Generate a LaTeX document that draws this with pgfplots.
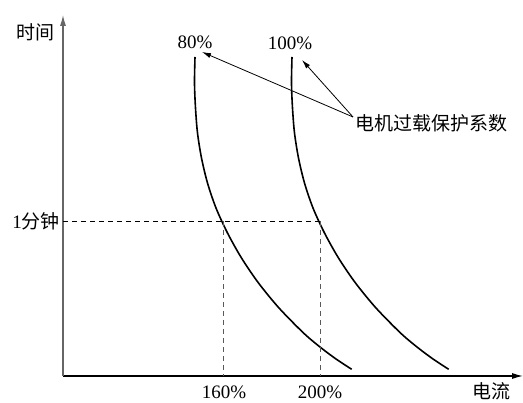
\documentclass[border=0pt]{standalone}
\usepackage{fontspec}
\setmainfont{Liberation Serif}
\newfontfamily\cjk{Noto Sans CJK SC}
\usepackage{pgfplots}
\pgfplotsset{compat=1.18}
\usetikzlibrary{arrows.meta}
\tikzset{lbl/.style={font=\fontsize{19}{22}\selectfont, inner sep=1pt}}
\begin{document}
\begin{tikzpicture}
\begin{axis}[
  at={(63pt,27pt)}, anchor=south west,
  width=460pt, height=361pt, scale only axis,
  xmin=63, xmax=523, ymin=27, ymax=388,
  axis lines=left, clip=false,
  xtick=\empty, ytick=\empty,
  x axis line style={black, line width=1.2pt, -{Latex[length=11pt,width=6pt]}},
  y axis line style={black!60, line width=1.2pt, -{Latex[length=11pt,width=6pt]}},
  every axis plot/.append style={line width=1.6pt, black},
]
% 80% curve (data in picture units)
\addplot[smooth] coordinates {
(195,346) (194.5,320) (195.5,295) (197.5,270) (201.5,245) (207.5,220)
(216,195) (227.5,170) (241.5,145) (258.5,120) (279,95) (303.5,70)
(320,56) (336,44) (351.7,33.7)};
% 100% curve
\addplot[smooth] coordinates {
(292,346) (291.5,320) (292.5,295) (294.5,270) (298.5,245) (304.5,220)
(313,195) (324.5,170) (338.5,145) (355.5,120) (376,95) (400.5,70)
(417,56) (433,44) (448.7,33.7)};
% guide lines
\addplot[line width=0.9pt, black, dash pattern=on 5pt off 4pt] coordinates {(63,182) (320.3,182)};
\addplot[line width=0.9pt, black!65, dash pattern=on 5pt off 4pt] coordinates {(223.5,182) (223.5,27)};
\addplot[line width=0.9pt, black!65, dash pattern=on 5pt off 4pt] coordinates {(320.3,182) (320.3,27)};
% annotation arrows
\draw[line width=0.8pt, -{Latex[length=9pt,width=5pt]}] (axis cs:353,286) -- (axis cs:202,351);
\draw[line width=0.8pt, -{Latex[length=9pt,width=5pt]}] (axis cs:353,286) -- (axis cs:302,343);
% texts
\node[lbl] at (axis cs:36,371) {\cjk 时间};
\node[lbl] at (axis cs:491,12) {\cjk 电流};
\node[lbl, anchor=east] at (axis cs:61,182) {1\cjk 分钟};
\node[lbl] at (axis cs:224,11) {160\%};
\node[lbl] at (axis cs:320,11) {200\%};
\node[lbl] at (axis cs:195,361) {80\%};
\node[lbl] at (axis cs:290,360) {100\%};
\node[lbl, anchor=west] at (axis cs:354,280) {\cjk 电机过载保护系数};
\end{axis}
\pgfresetboundingbox
\path[use as bounding box] (0,0) rectangle (523pt,403pt);
\end{tikzpicture}
\end{document}
